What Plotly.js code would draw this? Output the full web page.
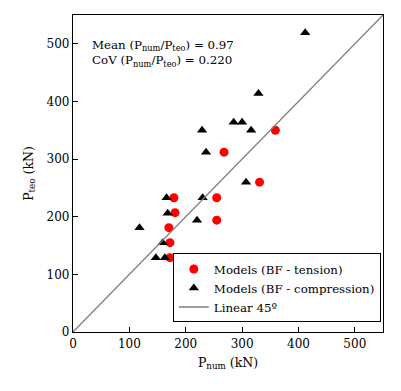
<!DOCTYPE html>
<html><head><meta charset="utf-8">
<script src="https://cdn.plot.ly/plotly-3.0.1.min.js"></script>
<style>body{margin:0;background:#fff}#chart{width:401px;height:391px}</style>
</head><body><div id="chart"></div>
<script>
const tensionX = [359, 268, 331, 179, 255, 181, 255, 170, 172, 172];
const tensionY = [350, 312, 260, 233, 233, 207, 194, 181, 155, 129];
const compX = [412, 329, 285, 300, 229, 316, 236, 307, 166, 230, 168, 220, 118, 159, 147, 163];
const compY = [519, 414, 364, 364, 350, 350, 312, 260, 233, 233, 206, 194, 181, 155, 129, 129];
const lineX = [0, 550];
const lineY = [0, 550];
const tickVals = [0, 100, 200, 300, 400, 500];

const FAM = 'DejaVu Serif';
const mkFont = (s) => ({family: FAM, color: '#000', size: s});

const traces = [
  {x: tensionX, y: tensionY, type: 'scatter', mode: 'markers', name: 'Models (BF - tension)',
   marker: {symbol: 'circle', color: '#ff0000', size: 9}},
  {x: compX, y: compY, type: 'scatter', mode: 'markers', name: 'Models (BF - compression)',
   marker: {symbol: 'triangle-up', color: '#000000', size: 9}},
  {x: lineX, y: lineY, type: 'scatter', mode: 'lines', name: 'Linear 45º',
   line: {color: '#808080', width: 1.3}}
];

const axisCommon = {
  range: [0, 550], tickvals: tickVals, ticks: 'inside', ticklen: 5, tickcolor: '#000',
  showline: true, linecolor: '#000', linewidth: 1.3, mirror: true, showgrid: false,
  zeroline: false, tickfont: mkFont(12)
};

const layout = {
  width: 401, height: 391,
  margin: {l: 73, r: 18, t: 15, b: 59},
  paper_bgcolor: '#fff', plot_bgcolor: '#fff',
  font: mkFont(12),
  showlegend: true,
  xaxis: Object.assign({}, axisCommon, {title: {text: 'P<sub>num</sub> (kN)', font: mkFont(12.5), standoff: 8}}),
  yaxis: Object.assign({}, axisCommon, {title: {text: 'P<sub>teo</sub> (kN)', font: mkFont(12.5), standoff: 10}}),
  legend: {x: 0.322, y: 0.03, xanchor: 'left', yanchor: 'bottom', bordercolor: '#000', borderwidth: 1,
    bgcolor: '#fff', font: mkFont(11.8), tracegroupgap: 0, itemwidth: 30},
  annotations: [
    {xref: 'paper', yref: 'paper', x: 0.055, y: 0.935, xanchor: 'left', yanchor: 'top', showarrow: false, align: 'left',
     text: 'Mean (P<sub>num</sub>/P<sub>teo</sub>) = 0.97<br>CoV (P<sub>num</sub>/P<sub>teo</sub>) = 0.220', font: mkFont(11.8)}
  ]
};

Plotly.newPlot('chart', traces, layout, {displayModeBar: false});
</script></body></html>
